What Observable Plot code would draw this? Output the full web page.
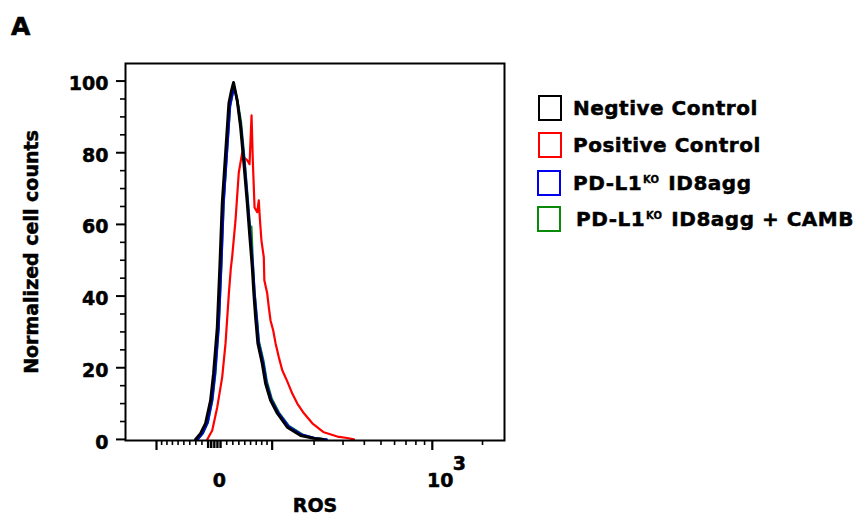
<!DOCTYPE html>
<html>
<head>
<meta charset="utf-8">
<script src="https://cdn.jsdelivr.net/npm/d3@7"></script>
<script src="https://cdn.jsdelivr.net/npm/@observablehq/plot@0.6"></script>
<style>
  html, body { margin: 0; padding: 0; background: #fff; }
  #wrap { position: relative; width: 864px; height: 518px; overflow: hidden; font-family: "DejaVu Sans", sans-serif; font-weight: bold; }
  #chart { position: absolute; left: 0; top: 0; }
  #chart svg text { stroke: #000; stroke-width: 0.5px; paint-order: stroke; }
  #panel { position: absolute; left: 11px; top: 12px; font-size: 25px; -webkit-text-stroke: 0.6px #000; }
  .leg { position: absolute; display: flex; align-items: center; font-size: 20px; letter-spacing: 0.5px; white-space: nowrap; -webkit-text-stroke: 0.5px #000; }
  .sw { width: 20px; height: 22px; border: 2.5px solid; margin-right: 12px; box-sizing: content-box; }
  sup { font-size: 10px; vertical-align: 0; position: relative; top: -7px; letter-spacing: 0; margin-left: 1px; margin-right: 2px; -webkit-text-stroke: 0.3px #000; }
</style>
</head>
<body>
<div id="wrap">
  <div id="chart"></div>
  <div id="panel">A</div>
  <div id="legend"></div>
</div>
<script>
// ---- data (ROS intensity, normalized cell count) ----
const seriesNames = ["Negtive Control", "Positive Control", "PD-L1KO ID8agg", "PD-L1KO ID8agg + CAMB"];
const seriesColors = ["#000000", "#ff0000", "#0000ee", "#0a8a0a"];

const negativeControl = [
  [-30.5,0],[-22.3,1.7],[-14.2,4.5],[-6.1,10.9],[-1.3,18.4],[4.7,31.3],[8.9,48.6],[12.7,65.9],
  [18.1,79.8],[23.5,93.8],[27.8,97.4],[31.2,99.6],[37.2,94.6],[42.8,87.2],[48.4,77.0],[54.2,65.9],
  [58.7,56.4],[62.9,48.0],[65.7,40.7],[68.8,34.0],[72.9,26.8],[80.9,21.2],[87.2,15.6],[96.8,10.9],
  [110.3,7.3],[131.8,3.4],[163.5,1.1],[199.3,0.3],[229,0]
];
const positiveControl = [
  [-11.4,0],[-3.4,2.5],[4.7,9.0],[12.7,17.4],[18.1,26.8],[23.5,40.7],[26.7,47.7],[29.0,51.1],
  [34.4,61.1],[39.9,74.5],[45.7,80.1],[48.4,78.7],[54.2,77.9],[58.2,76.8],[61.7,90.4],[63.9,77.9],
  [67.0,64.7],[71.8,63.4],[74.6,66.7],[76.4,62.0],[79.5,55.5],[83.9,50.8],[84.9,44.4],[90.4,40.7],
  [93.5,36.8],[96.8,33.2],[102.1,30.4],[106.9,26.8],[113.6,22.9],[120.8,19.3],[131.8,16.2],
  [143.2,12.8],[155.3,10.0],[172,7.3],[195,4.5],[230,2.0],[277.5,0.8],[317.6,0.4],[347.5,0]
];
const pdl1ko = [
  [-27.2,0],[-19.0,1.7],[-11.0,4.7],[-3.7,10.9],[1.1,18.4],[6.8,31.3],[11.1,48.6],[14.8,65.9],
  [20.2,79.8],[25.4,93.2],[29.5,96.6],[32.8,98.0],[37.7,94.1],[43.6,87.1],[49.6,77.0],[55.2,65.9],
  [59.9,56.4],[63.9,48.6],[67.0,40.7],[70.6,34.0],[74.6,26.8],[82.9,21.2],[89.1,15.6],[98.8,10.9],
  [113,7.3],[134.6,3.6],[166,1.3],[204.5,0.3],[238,0]
];
const pdl1koCamb = [
  [-26.4,0],[-18.2,1.7],[-10.2,4.7],[-2.9,10.9],[1.9,18.4],[7.3,31.3],[11.6,48.6],[15.3,65.9],
  [20.5,79.8],[25.7,92.9],[29.8,96.3],[33.1,97.7],[38.2,94.3],[43.9,88.5],[49.9,77.9],[55.6,66.7],
  [59.9,57.8],[61.6,59.4],[64.2,49.4],[67.3,41.0],[71.1,34.6],[75.1,27.4],[83.7,21.8],[89.9,16.2],
  [99.3,11.4],[114,7.5],[135.7,3.8],[168.4,1.4],[206.5,0.3],[241,0]
];

// axis ticks
const yMajorTicks = [0, 20, 40, 60, 80, 100];
const yMinorTicks = [5, 10, 15, 25, 30, 35, 45, 50, 55, 65, 70, 75, 85, 90, 95];
const xMajorTicks = [-100, 100, 1000];
const xZeroTicks = [-10, -5, 0, 5, 10];
const xMinorTicks = [-90, -80, -70, -60, -50, -40, -30, -20, 20, 30, 40, 50, 60, 70, 80, 90,
                     200, 300, 400, 500, 600, 700, 800, 900, 2000];
const xZeroLabel = ["0"];
const xDecadeLabel = ["10"];
const xDecadeExponent = ["3"];
const xRange = [-170, 2720];
const yRange = [-0.3, 104.9];

// ---- biexponential (logicle-like) display transform ----
const LA = 40.7, LD = 160, LP = 1.75;
function rosOf(u) {
  const s = Math.sign(u), v = Math.abs(u), r = Math.pow(10, v / LD);
  return s * LA * (r - LP * LP * Math.pow(r, -1 / LP) + LP * LP - 1);
}
function U(x) {
  let lo = -600, hi = 600;
  for (let i = 0; i < 60; i++) { const m = (lo + hi) / 2; if (rosOf(m) < x) lo = m; else hi = m; }
  return (lo + hi) / 2;
}

const allSeries = [negativeControl, positiveControl, pdl1ko, pdl1koCamb];
const table = allSeries.flatMap((s, i) => s.map(([ros, count]) => ({series: seriesNames[i], ros, count})));
const drawOrder = [1, 3, 2, 0];
const widths = [2.9, 2.2, 2.4, 2.0];

const F = "DejaVu Sans";
const plot = Plot.plot({
  width: 864, height: 518,
  marginLeft: 125, marginRight: 360, marginTop: 63, marginBottom: 78,
  style: {fontFamily: F, fontWeight: "bold", background: "white", overflow: "visible"},
  x: {type: "linear", domain: xRange.map(U), axis: null},
  y: {domain: yRange, axis: null},
  marks: [
    ...drawOrder.map(i => Plot.line(table.filter(d => d.series === seriesNames[i]), {
      x: d => U(d.ros), y: "count", stroke: seriesColors[i], strokeWidth: widths[i], strokeLinejoin: "round"
    })),
    Plot.frame({stroke: "black", strokeWidth: 2}),
    Plot.axisY(yMajorTicks, {tickSize: 9, strokeWidth: 2, tickFormat: () => "", label: null}),
    Plot.axisY(yMinorTicks, {tickSize: 5, strokeWidth: 1.6, tickFormat: () => "", label: null}),
    Plot.text(yMajorTicks, {y: d => d, text: d => String(d), frameAnchor: "left", dx: -17, dy: 3, textAnchor: "end", lineAnchor: "middle", fontSize: 19}),
    Plot.axisX(xMajorTicks.map(U), {tickSize: 10, strokeWidth: 2.2, tickFormat: () => "", label: null}),
    Plot.axisX(xZeroTicks.map(U), {tickSize: 8, strokeWidth: 2.4, tickFormat: () => "", label: null}),
    Plot.axisX(xMinorTicks.map(U), {tickSize: 5, strokeWidth: 1.6, tickFormat: () => "", label: null}),
    Plot.text(xZeroLabel, {x: () => U(0), text: d => d, frameAnchor: "bottom", lineAnchor: "middle", textAnchor: "middle", dx: 5, dy: 40, fontSize: 19}),
    Plot.text(xDecadeLabel, {x: () => U(1000), text: d => d, frameAnchor: "bottom", lineAnchor: "middle", textAnchor: "middle", dx: 8, dy: 40, fontSize: 19}),
    Plot.text(xDecadeExponent, {x: () => U(1000), text: d => d, frameAnchor: "bottom", lineAnchor: "middle", textAnchor: "middle", dx: 27, dy: 23, fontSize: 19}),
    Plot.text(["ROS"], {text: d => d, frameAnchor: "bottom", lineAnchor: "middle", textAnchor: "middle", dy: 65, fontSize: 19}),
    Plot.text(["Normalized cell counts"], {text: d => d, frameAnchor: "left", textAnchor: "middle", lineAnchor: "middle", dx: -94, rotate: -90, fontSize: 19})
  ]
});
document.getElementById("chart").appendChild(plot);

// ---- legend ----
const legendRows = [
  {html: "Negtive Control", top: 95, left: 538, tx: 574},
  {html: "Positive Control", top: 132, left: 538, tx: 574},
  {html: "PD-L1<sup>KO</sup> ID8agg", top: 170, left: 537, tx: 574},
  {html: "PD-L1<sup>KO</sup> ID8agg + CAMB", top: 206, left: 537, tx: 577}
];
const leg = document.getElementById("legend");
legendRows.forEach((r, i) => {
  const row = document.createElement("div");
  row.className = "leg";
  row.style.left = r.left + "px";
  row.style.top = r.top + "px";
  const sw = document.createElement("div");
  sw.className = "sw";
  sw.style.borderColor = seriesColors[i];
  sw.style.marginRight = (r.tx - r.left - 25) + "px";
  row.appendChild(sw);
  const t = document.createElement("span");
  t.innerHTML = r.html;
  row.appendChild(t);
  leg.appendChild(row);
});
</script>
</body>
</html>
